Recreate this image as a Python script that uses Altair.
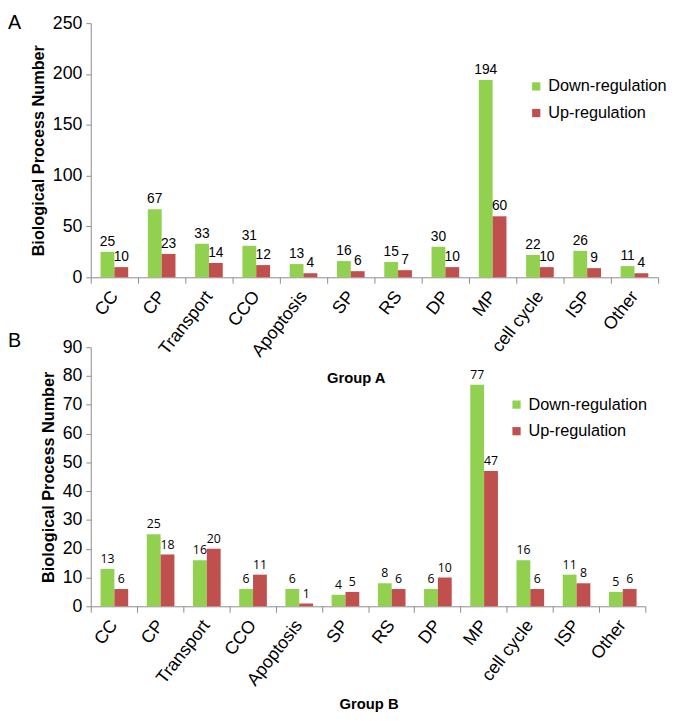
import altair as alt
import pandas as pd

categories = ["CC", "CP", "Transport", "CCO", "Apoptosis", "SP", "RS", "DP",
              "MP", "cell cycle", "ISP", "Other"]
series = ["Down-regulation", "Up-regulation"]
a_down = [25, 67, 33, 31, 13, 16, 15, 30, 194, 22, 26, 11]
a_up = [10, 23, 14, 12, 4, 6, 7, 10, 60, 10, 9, 4]
b_down = [13, 25, 16, 6, 6, 4, 8, 6, 77, 16, 11, 5]
b_up = [6, 18, 20, 11, 1, 5, 6, 10, 47, 6, 8, 6]

GREEN = "#92D050"
RED = "#C0504D"
GRAY = "#8C8C8C"


def long_df(down, up):
    rows = []
    for c, d, u in zip(categories, down, up):
        rows.append({"category": c, "series": series[0], "value": d})
        rows.append({"category": c, "series": series[1], "value": u})
    return pd.DataFrame(rows)


def panel(df, letter, letter_y, ymax, step, width, height, group_title, title_x,
          title_y, legend_x, legend_y, label_font, label_size):
    x_axis = alt.Axis(title=group_title, labelAngle=-52, labelAlign="right",
                      labelBaseline="middle", labelPadding=10,
                      labelOverlap=False,
                      tickBand="extent", tickSize=6, tickColor=GRAY,
                      domainColor=GRAY, labelFontSize=18,
                      labelFont="Liberation Sans", labelColor="#000000",
                      titleFont="Liberation Sans", titleFontSize=15,
                      titleFontWeight="bold", titleX=title_x, titleY=title_y,
                      titleBaseline="middle", titleColor="#000000")
    x = alt.X("category:N", sort=categories,
              scale=alt.Scale(paddingInner=0, paddingOuter=0), axis=x_axis)
    xo = alt.XOffset("series:N", sort=series,
                     scale=alt.Scale(paddingInner=0, paddingOuter=0.71))
    y_axis = alt.Axis(title="Biological Process Number",
                      values=list(range(0, ymax + 1, step)), grid=False,
                      labelOverlap=False,
                      tickSize=5, tickColor=GRAY, domainColor=GRAY,
                      labelFontSize=18, labelFont="Liberation Sans",
                      labelColor="#000000", labelPadding=4,
                      titleFont="Liberation Sans", titleFontSize=16.5,
                      titleFontWeight="bold", titlePadding=6,
                      titleColor="#000000")
    y_scale = alt.Scale(domain=[0, ymax], nice=False)
    base = alt.Chart(df).encode(x=x, xOffset=xo)
    bars = base.mark_bar().encode(
        y=alt.Y("value:Q", scale=y_scale, axis=y_axis),
        color=alt.Color("series:N", sort=series,
                        scale=alt.Scale(domain=series, range=[GREEN, RED]),
                        legend=alt.Legend(orient="none", legendX=legend_x,
                                          legendY=legend_y, title=None,
                                          symbolType="square", symbolSize=70,
                                          symbolStrokeWidth=0,
                                          labelFontSize=16.5,
                                          labelFont="Liberation Sans",
                                          labelColor="#000000",
                                          rowPadding=10, labelOffset=4)),
    )
    labels = base.mark_text(baseline="alphabetic", dy=-6, font=label_font,
                            fontSize=label_size, color="#000000").encode(
        y=alt.Y("value:Q", scale=y_scale, axis=y_axis), text=alt.Text("value:Q"))
    letter_df = pd.DataFrame({"t": [letter]})
    letter_mark = alt.Chart(letter_df).mark_text(
        font="Liberation Sans", fontSize=20, align="left", baseline="middle",
        color="#000000").encode(text="t:N", x=alt.value(-84), y=alt.value(letter_y))
    return alt.layer(bars, labels, letter_mark).properties(width=width, height=height)


chart_a = panel(long_df(a_down, a_up), "A", 0, 250, 50, 576, 258, "Group A",
                269, 102, 444, 56, "Liberation Sans", 14)
chart_b = panel(long_df(b_down, b_up), "B", -6, 90, 10, 563, 263, "Group B",
                282, 99, 424, 50, "Open Sans", 12.5)

chart = alt.vconcat(chart_a, chart_b, spacing=71, bounds="flush").resolve_scale(
    color="independent").resolve_legend(color="independent").properties(
    padding=0).configure_view(stroke=None).configure_axisY(labelOverlap=False)

chart.save("out.html", embed_options={"renderer": "svg", "actions": False})
